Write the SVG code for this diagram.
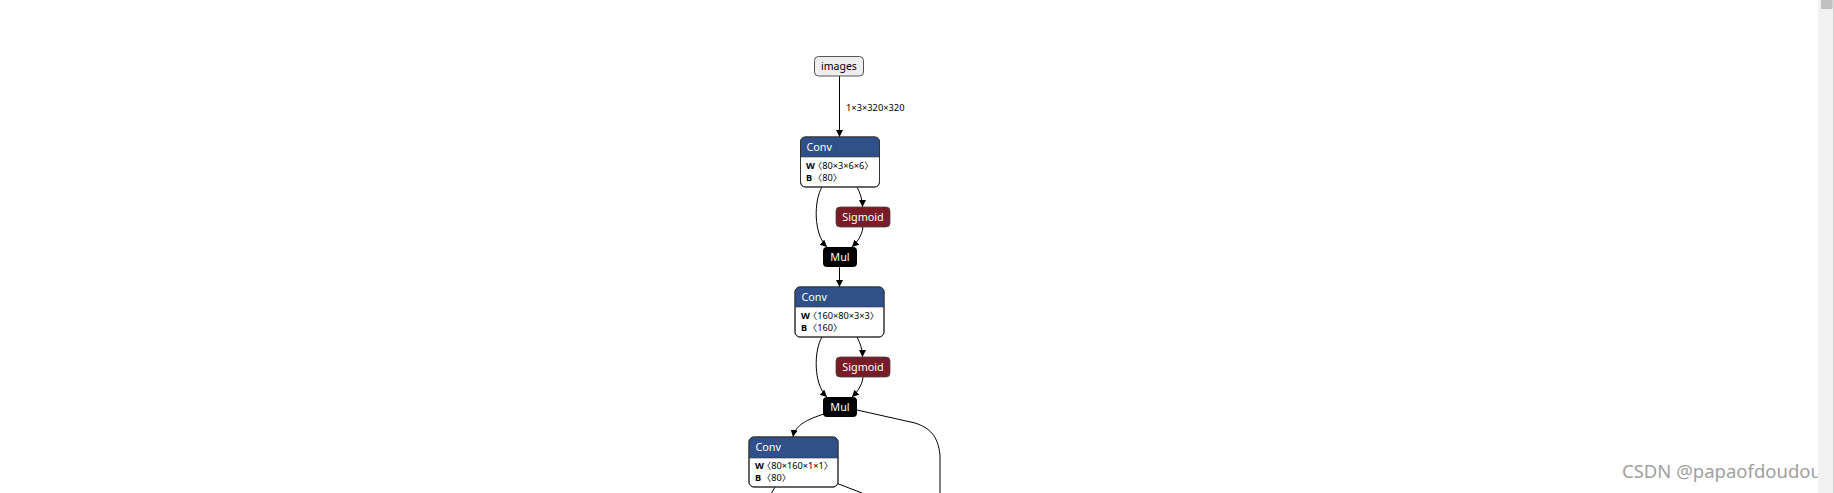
<svg xmlns="http://www.w3.org/2000/svg" width="1834" height="493" viewBox="0 0 1834 493">
<style>
text{font-family:"Noto Sans","DejaVu Sans","Noto Sans CJK SC",sans-serif;}
.t{font-size:10.8px;fill:#fff;}
.tc{font-size:10.8px;fill:#fff;text-anchor:middle;}
.a{font-size:9.2px;fill:#000;}
.b{font-weight:bold;}
.body{fill:#fff;stroke:#333;stroke-width:1;}
.hdr{fill:#30508a;}
.sig{fill:#7a1c26;stroke:#444;stroke-width:0.8;}
.outline{fill:none;stroke:#333;stroke-width:1;}
.e{fill:none;stroke:#000;stroke-width:1;}
.ea{fill:none;stroke:#000;stroke-width:1;marker-end:url(#arr);}
</style>
<defs>
<marker id="arr" markerUnits="userSpaceOnUse" markerWidth="8" markerHeight="8" refX="7" refY="3.5" orient="auto">
<path d="M0,0 L7,3.5 L0,7 z" fill="#000"/>
</marker>
</defs>
<rect x="0" y="0" width="1834" height="493" fill="#fff"/>

<g id="connectors">
<path class="ea" d="M839.5,76 L839.5,137"/>
<text x="846" y="111" font-size="9.3px" fill="#000">1×3×320×320</text>
<path class="ea" d="M822,187 C814,200 813,234 827,247"/>
<path class="ea" d="M857,187 C860,193 862.5,199 862.5,207"/>
<path class="ea" d="M863,227 C862,236 857,242 852,247"/>
<path class="ea" d="M839.5,267 L839.5,287"/>
<path class="ea" d="M822,337 C814,350 813,384 827,397"/>
<path class="ea" d="M857,337 C860,343 862.5,349 862.5,357"/>
<path class="ea" d="M863,377 C862,386 857,392 852,397"/>
<path class="ea" d="M824,414 C808,419 795,425 793,437"/>
<path class="e" d="M857,410 L915,423 C930,428 938,436 940,455 L940,493"/>
<path class="e" d="M775,487 L771.5,493"/>
<path class="e" d="M836,483 L862,493"/>
</g>

<g id="node-images">
<rect x="814.5" y="56.5" width="49" height="19.5" rx="4" fill="#eee" stroke="#555"/>
<text x="839" y="70" font-size="10.5px" fill="#000" text-anchor="middle">images</text>
</g>

<g id="node-conv1">
<rect class="body" x="800.5" y="137" width="79" height="50" rx="5"/>
<path class="hdr" d="M800.5,157 L800.5,142 Q800.5,137 805.5,137 L874.5,137 Q879.5,137 879.5,142 L879.5,157 Z"/>
<line x1="800.5" y1="157" x2="879.5" y2="157" stroke="#333" stroke-width="0.6"/>
<rect class="outline" x="800.5" y="137" width="79" height="50" rx="5"/>
<text class="t" x="806.5" y="151">Conv</text>
<text class="a b" x="806" y="168.5">W</text>
<text class="a" x="813" y="168.5">〈80×3×6×6〉</text>
<text class="a b" x="806" y="180.5">B</text>
<text class="a" x="813" y="180.5">〈80〉</text>
</g>

<g id="node-sigmoid1">
<rect class="sig" x="836" y="207" width="54" height="20" rx="4"/>
<text class="tc" x="863" y="221">Sigmoid</text>
</g>

<g id="node-mul1">
<rect x="823" y="247" width="34" height="20" rx="4" fill="#000"/>
<text class="tc" x="840" y="261">Mul</text>
</g>

<g id="node-conv2">
<rect class="body" x="795" y="287" width="89" height="50" rx="5"/>
<path class="hdr" d="M795,307 L795,292 Q795,287 800,287 L879,287 Q884,287 884,292 L884,307 Z"/>
<line x1="795" y1="307" x2="884" y2="307" stroke="#333" stroke-width="0.6"/>
<rect class="outline" x="795" y="287" width="89" height="50" rx="5"/>
<text class="t" x="801.5" y="301">Conv</text>
<text class="a b" x="801" y="318.5">W</text>
<text class="a" x="808" y="318.5">〈160×80×3×3〉</text>
<text class="a b" x="801" y="330.5">B</text>
<text class="a" x="808" y="330.5">〈160〉</text>
</g>

<g id="node-sigmoid2">
<rect class="sig" x="836" y="357" width="54" height="20" rx="4"/>
<text class="tc" x="863" y="371">Sigmoid</text>
</g>

<g id="node-mul2">
<rect x="823" y="397" width="34" height="20" rx="4" fill="#000"/>
<text class="tc" x="840" y="411">Mul</text>
</g>

<g id="node-conv3">
<rect class="body" x="749" y="437" width="89" height="50" rx="5"/>
<path class="hdr" d="M749,458 L749,442 Q749,437 754,437 L833,437 Q838,437 838,442 L838,458 Z"/>
<line x1="749" y1="458" x2="838" y2="458" stroke="#333" stroke-width="0.6"/>
<rect class="outline" x="749" y="437" width="89" height="50" rx="5"/>
<text class="t" x="755.5" y="451">Conv</text>
<text class="a b" x="755" y="468.5">W</text>
<text class="a" x="762" y="468.5">〈80×160×1×1〉</text>
<text class="a b" x="755" y="480.5">B</text>
<text class="a" x="762" y="480.5">〈80〉</text>
</g>

<text x="1622" y="478" font-family="Liberation Sans, Arial, sans-serif" font-size="18.5px" fill="#a0a0a0">CSDN @papaofdoudou</text>

<g id="scrollbar">
<rect x="1818" y="0" width="16" height="493" fill="#f1f1f1"/>
<line x1="1833.5" y1="0" x2="1833.5" y2="493" stroke="#d0d0d0"/>
<rect x="1821" y="0" width="11.5" height="9" fill="#c1c1c1"/>
</g>
</svg>
